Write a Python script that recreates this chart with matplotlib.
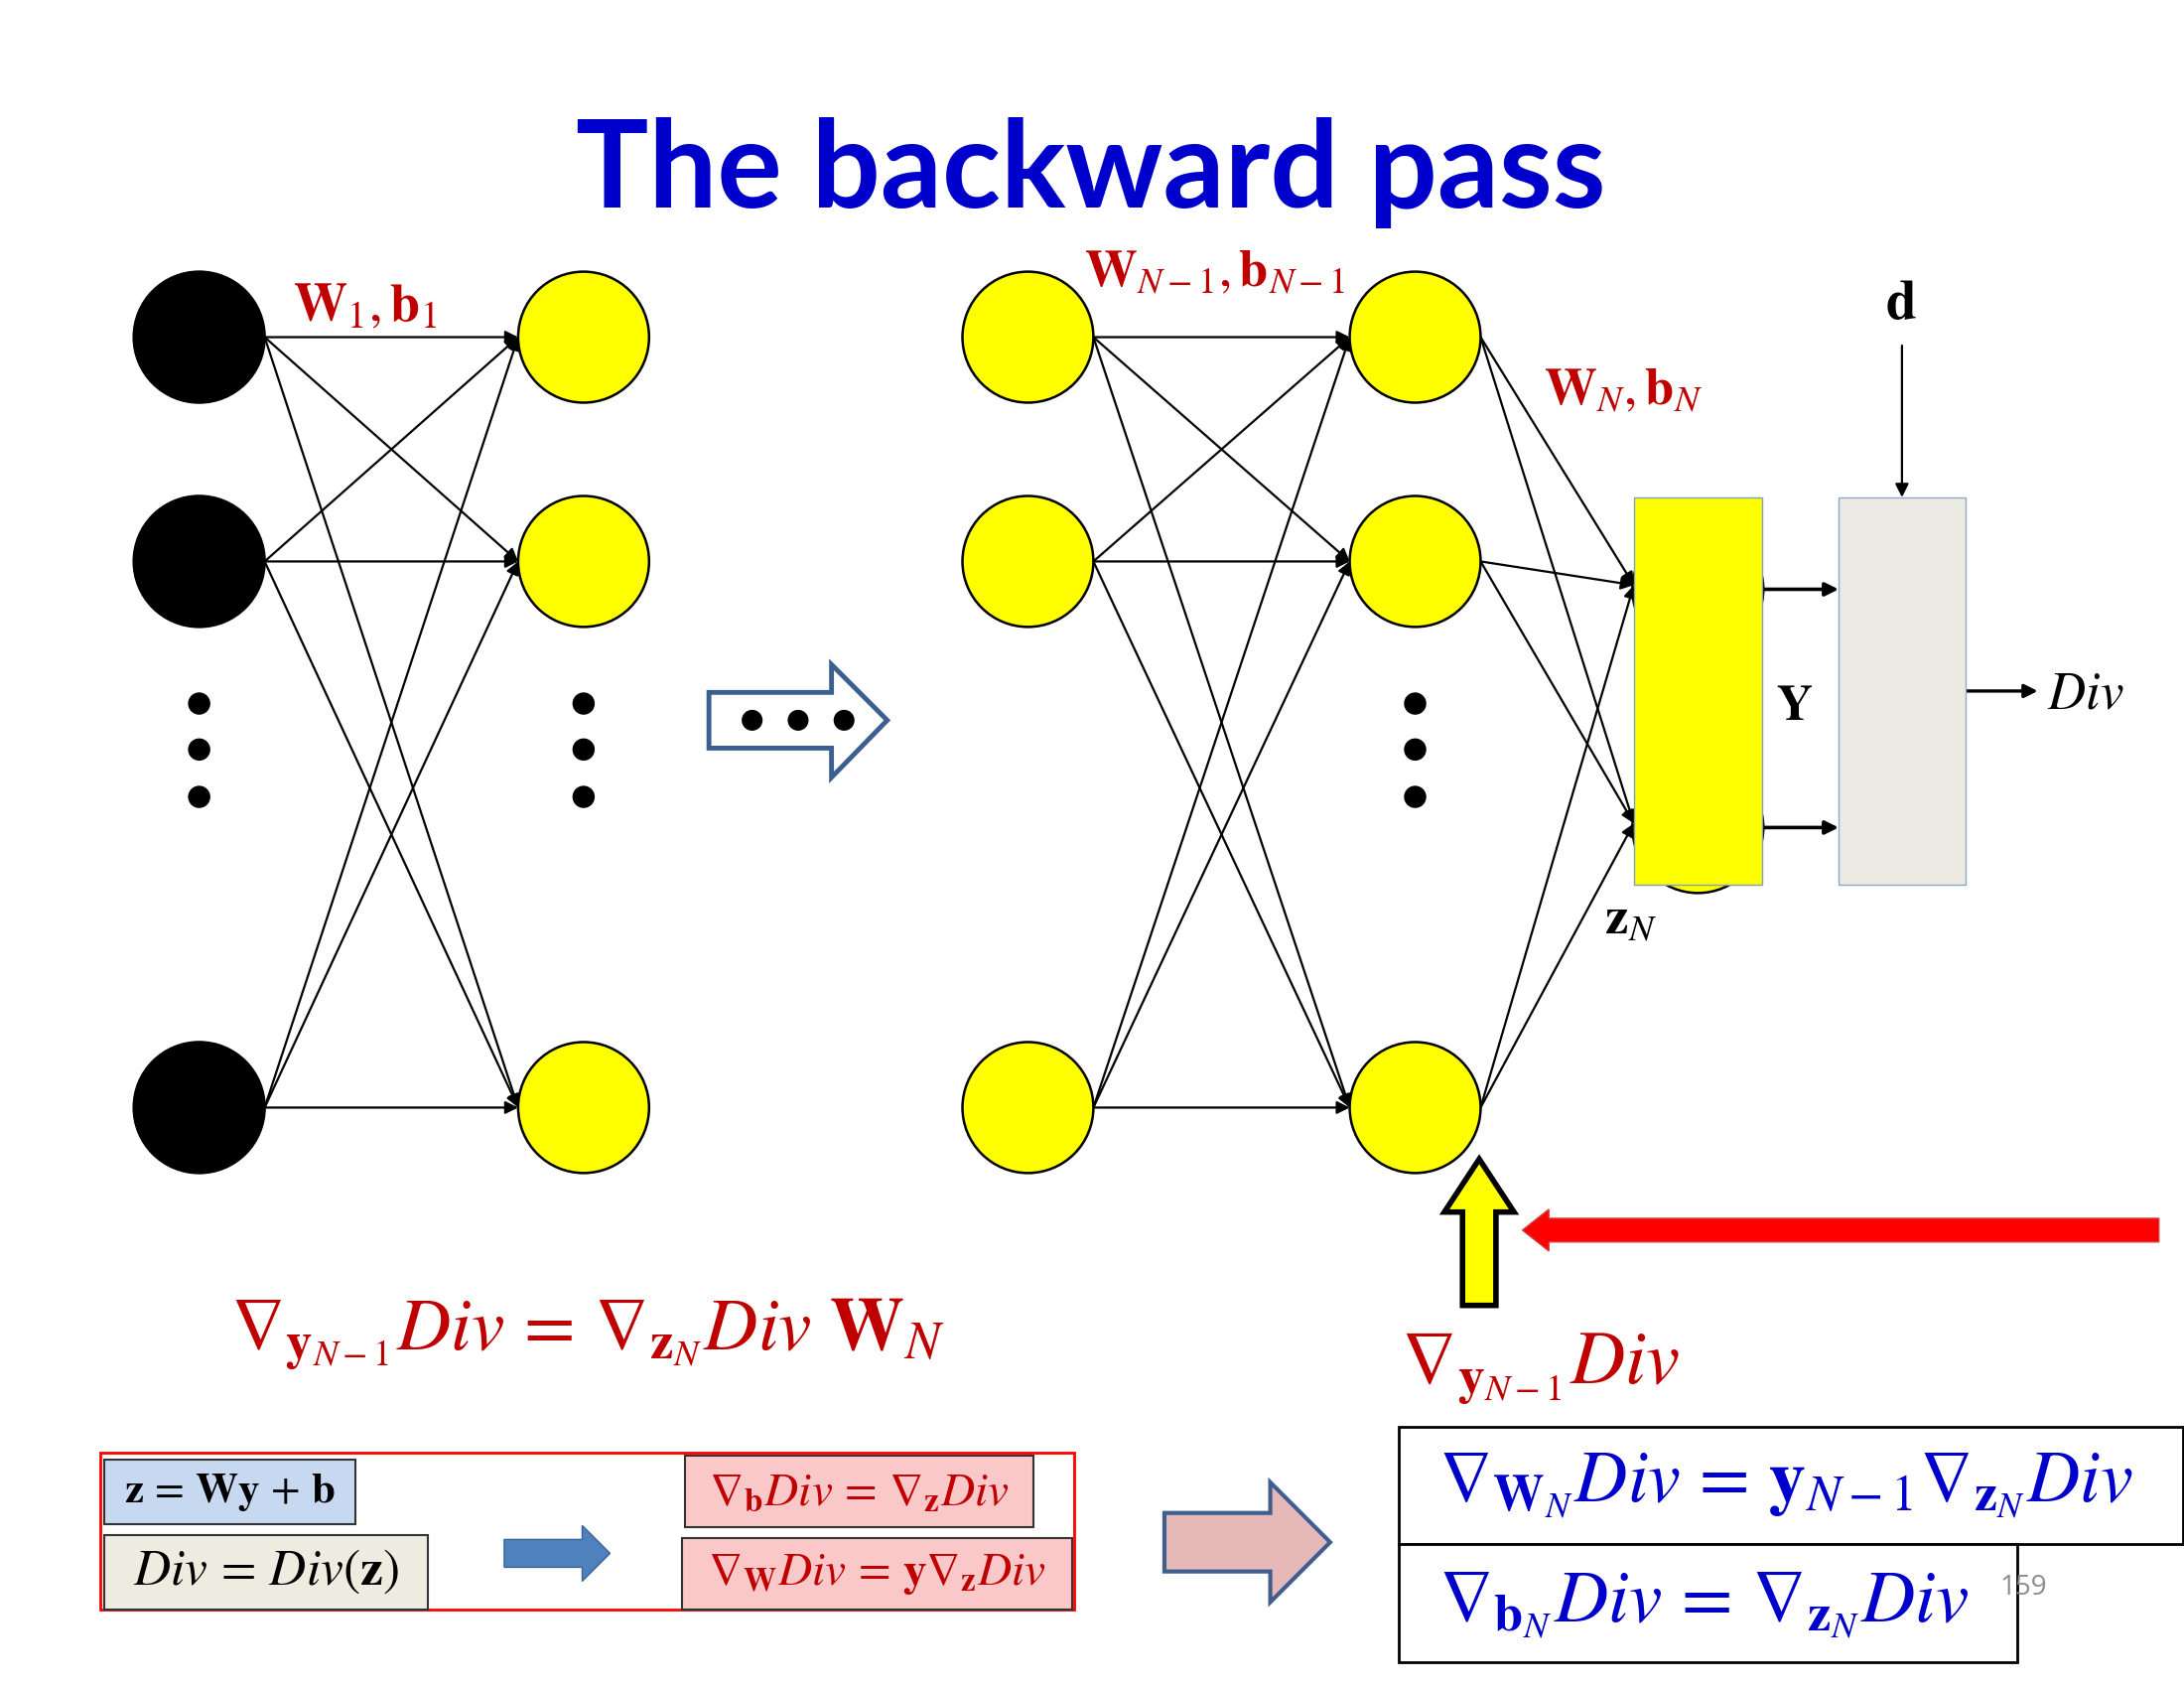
import matplotlib
matplotlib.use("Agg")
import matplotlib.pyplot as plt
from matplotlib.patches import Circle, Rectangle, Polygon, FancyArrowPatch

plt.rcParams['mathtext.fontset'] = 'stix'
plt.rcParams['font.family'] = ['DejaVu Serif']

# canvas units (slide is 1568 x 1211.6 units, saved at 2200 x 1700 px)
W_UNITS = 1568.0
H_UNITS = W_UNITS * 1700 / 2200

# node layout
left_cols = [143, 419]          # first layer pair
right_cols = [738, 1016]        # last hidden layer pair
node_rows = [242, 403, 795]
node_r = 47
dot_rows = [505, 538, 572]
dot_cols = [143, 419, 1016]

# output layer block and divergence block
out_box = (1173, 357, 92, 278)      # x, y, w, h
div_box = (1320, 357, 91, 278)
out_rows = [423, 594]

RED = '#C00000'
BLUE = '#0000CC'
NB = r'\nabla'

fig = plt.figure(figsize=(22, 17), dpi=100)
ax = fig.add_axes([0, 0, 1, 1])
ax.set_xlim(0, W_UNITS)
ax.set_ylim(H_UNITS, 0)
ax.axis('off')


def arrow(p0, p1, lw=1.6, ms=19, z=2):
    a = FancyArrowPatch(p0, p1, arrowstyle='-|>', mutation_scale=ms,
                        lw=lw, color='black', shrinkA=0, shrinkB=0, zorder=z)
    ax.add_patch(a)


def node(x, y, fc):
    ax.add_patch(Circle((x, y), node_r, fc=fc, ec='black', lw=1.8, zorder=3))


# title
ax.text(783, 124, 'The backward pass', ha='center', va='center',
        fontsize=88, fontweight='bold', color=BLUE, family='Lato')

# first layer pair
for y in node_rows:
    node(left_cols[0], y, 'black')
    node(left_cols[1], y, 'yellow')
for y0 in node_rows:
    for y1 in node_rows:
        arrow((left_cols[0] + node_r, y0), (left_cols[1] - node_r, y1))

# last hidden layer pair
for y in node_rows:
    node(right_cols[0], y, 'yellow')
    node(right_cols[1], y, 'yellow')
for y0 in node_rows:
    for y1 in node_rows:
        arrow((right_cols[0] + node_r, y0), (right_cols[1] - node_r, y1))

# dots
for x in dot_cols:
    for y in dot_rows:
        ax.add_patch(Circle((x, y), 8, fc='black', ec='none', zorder=3))

# output layer (hidden circles behind the yellow block)
ox, oy, ow, oh = out_box
for y in out_rows:
    ax.add_patch(Circle((ox + ow / 2, y), node_r, fc='yellow', ec='black', lw=1.8, zorder=1))
ax.add_patch(Rectangle((ox, oy), ow, oh, fc='yellow', ec='#7f9fc0', lw=1, zorder=4))
for y0 in node_rows:
    for y1 in out_rows:
        arrow((right_cols[1] + node_r, y0), (ox, y1 - 3))

dx, dy, dw, dh = div_box
ax.add_patch(Rectangle((dx, dy), dw, dh, fc='#ECE9E2', ec='#8fa8c8', lw=1, zorder=4))
for y in out_rows:
    arrow((ox + ow, y), (dx, y), lw=2.6, ms=20)
arrow((dx + dw / 2, 248), (dx + dw / 2, dy), lw=1.6, ms=20)
arrow((dx + dw, 496), (1463, 496), lw=2.4, ms=20)

# labels in the network
ax.text(210, 220, r'$\mathbf{W}_1,\mathbf{b}_1$', color=RED, fontsize=39, ha='left', va='center')
ax.text(778, 195, r'$\mathbf{W}_{N-1},\mathbf{b}_{N-1}$', color=RED, fontsize=38, ha='left', va='center')
ax.text(1108, 280, r'$\mathbf{W}_N,\mathbf{b}_N$', color=RED, fontsize=38, ha='left', va='center')
ax.text(1365, 218, r'$\mathbf{d}$', color='black', fontsize=40, ha='center', va='center')
ax.text(1288, 507, r'$\mathbf{Y}$', color='black', fontsize=36, ha='center', va='center')
ax.text(1470, 498, r'$Div$', color='black', fontsize=38, ha='left', va='center')
ax.text(1152, 660, r'$\mathbf{z}_N$', color='black', fontsize=38, ha='left', va='center')

# dotted block arrow between the two network halves
bx0, bx1, bxh, by0, by1, bh0, bh1 = 509, 597, 637, 497, 537, 477, 558
ax.add_patch(Polygon([(bx0, by0), (bx1, by0), (bx1, bh0), (bxh, (by0 + by1) / 2),
                      (bx1, bh1), (bx1, by1), (bx0, by1)], closed=True,
                     fc='white', ec='#3B5F8F', lw=3.5, zorder=3))
for x in [540, 573, 606]:
    ax.add_patch(Circle((x, 517), 7.5, fc='black', ec='none', zorder=4))

# yellow upward arrow
ux, utip, ubase, ubot, uhw, usw = 1062, 832, 870, 937, 25, 12
ax.add_patch(Polygon([(ux, utip), (ux + uhw, ubase), (ux + usw, ubase), (ux + usw, ubot),
                      (ux - usw, ubot), (ux - usw, ubase), (ux - uhw, ubase)], closed=True,
                     fc='yellow', ec='black', lw=4, zorder=3))

# red leftward arrow
rtip, rbase, rend, ry, rhh, rsh = 1093, 1112, 1550, 883, 15, 8.5
ax.add_patch(Polygon([(rtip, ry), (rbase, ry - rhh), (rbase, ry - rsh), (rend, ry - rsh),
                      (rend, ry + rsh), (rbase, ry + rsh), (rbase, ry + rhh)], closed=True,
                     fc='#FF0000', ec='#d04040', lw=1, zorder=3))

# red equations
ax.text(165, 958, r'$%s_{\mathbf{y}_{N-1}}Div\,=\,%s_{\mathbf{z}_N}Div\ \mathbf{W}_N$' % (NB, NB),
        color=RED, fontsize=54, ha='left', va='center')
ax.text(1006, 982, r'$%s_{\mathbf{y}_{N-1}}Div$' % NB, color=RED, fontsize=55, ha='left', va='center')

# blue result boxes
ax.add_patch(Rectangle((1004, 1024), 563, 84, fc='white', ec='black', lw=2, zorder=2))
ax.add_patch(Rectangle((1004, 1108), 444, 85, fc='white', ec='black', lw=2, zorder=2))
ax.text(1033, 1066, r'$%s_{\mathbf{W}_N}Div\,=\,\mathbf{y}_{N-1}%s_{\mathbf{z}_N}Div$' % (NB, NB),
        color=BLUE, fontsize=53, ha='left', va='center', zorder=5)
ax.text(1033, 1152, r'$%s_{\mathbf{b}_N}Div\,=\,%s_{\mathbf{z}_N}Div$' % (NB, NB),
        color=BLUE, fontsize=54, ha='left', va='center', zorder=5)
ax.text(1453, 1140, '159', color='#8C8C8C', fontsize=20, ha='center', va='center', family='Open Sans')

# bottom-left summary panel
ax.add_patch(Rectangle((72, 1043), 699, 112, fc='white', ec='#FF0000', lw=2, zorder=1))
ax.add_patch(Rectangle((75, 1048), 180, 46, fc='#C6D9F1', ec='#333333', lw=1.5, zorder=2))
ax.add_patch(Rectangle((75, 1102), 232, 53, fc='#EEECE1', ec='#333333', lw=1.5, zorder=2))
ax.add_patch(Rectangle((492, 1045), 250, 51, fc='#FAC8C8', ec='#333333', lw=1.5, zorder=2))
ax.add_patch(Rectangle((490, 1104), 280, 51, fc='#FAC8C8', ec='#333333', lw=1.5, zorder=2))
ax.text(165, 1071, r'$\mathbf{z}\,=\,\mathbf{Wy}\,+\,\mathbf{b}$', color='black', fontsize=31,
        ha='center', va='center', zorder=5)
ax.text(191, 1128, r'$Div\,=\,Div(\mathbf{z})$', color='black', fontsize=37,
        ha='center', va='center', zorder=5)
ax.text(617, 1071, r'$%s_{\mathbf{b}}Div\,=\,%s_{\mathbf{z}}Div$' % (NB, NB), color=RED, fontsize=34,
        ha='center', va='center', zorder=5)
ax.text(630, 1130, r'$%s_{\mathbf{W}}Div\,=\,\mathbf{y}%s_{\mathbf{z}}Div$' % (NB, NB), color=RED,
        fontsize=34, ha='center', va='center', zorder=5)

# small blue arrow inside the panel
sx0, sx1, sx2, sy, shh, ssh = 362, 418, 438, 1115, 20, 10
ax.add_patch(Polygon([(sx0, sy - ssh), (sx1, sy - ssh), (sx1, sy - shh), (sx2, sy),
                      (sx1, sy + shh), (sx1, sy + ssh), (sx0, sy + ssh)], closed=True,
                     fc='#4F81BD', ec='#3A6496', lw=1, zorder=3))

# big pink arrow
px0, px1, px2, py, phh, psh = 836, 912, 955, 1107, 43, 21
ax.add_patch(Polygon([(px0, py - psh), (px1, py - psh), (px1, py - phh), (px2, py),
                      (px1, py + phh), (px1, py + psh), (px0, py + psh)], closed=True,
                     fc='#E6B9B8', ec='#3F5F8F', lw=3, zorder=3))

fig.savefig('out.png', dpi=100)
